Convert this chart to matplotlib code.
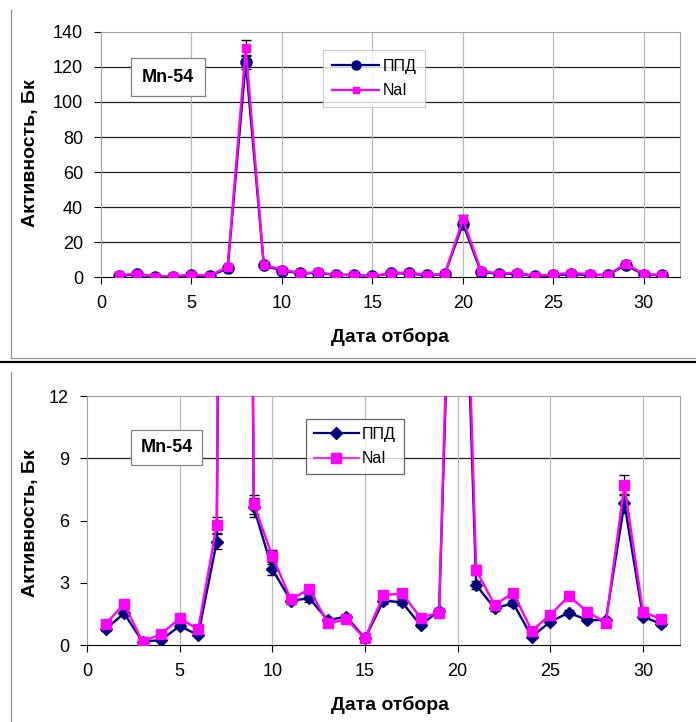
import matplotlib
matplotlib.use("Agg")
import matplotlib.pyplot as plt
from matplotlib.lines import Line2D

plt.rcParams['font.family'] = ['Liberation Sans', 'DejaVu Sans']

days = list(range(1, 32))
ppd = [0.76, 1.53, 0.16, 0.24, 0.92, 0.48, 4.98, 123.0, 6.63, 3.65, 2.14, 2.25, 1.2, 1.37, 0.32,
       2.14, 2.06, 0.96, 1.65, 30.5, 2.89, 1.77, 2.01, 0.4, 1.12, 1.56, 1.2, 1.2, 6.83, 1.37, 1.01]
nai = [1.01, 1.98, 0.16, 0.53, 1.28, 0.76, 5.78, 131.0, 6.78, 4.29, 2.2, 2.7, 1.04, 1.24, 0.32,
       2.4, 2.49, 1.32, 1.56, 33.0, 3.61, 1.93, 2.52, 0.69, 1.45, 2.36, 1.61, 1.08, 7.71, 1.61, 1.24]
err_ppd = [0.06, 0.12, 0.02, 0.03, 0.07, 0.04, 0.35, 4.0, 0.45, 0.26, 0.15, 0.16, 0.09, 0.1, 0.03,
           0.15, 0.15, 0.07, 0.12, 2.1, 0.2, 0.12, 0.15, 0.03, 0.08, 0.11, 0.09, 0.09, 0.45, 0.1, 0.07]
err_nai = [0.07, 0.14, 0.02, 0.04, 0.08, 0.05, 0.4, 4.5, 0.45, 0.3, 0.15, 0.19, 0.07, 0.09, 0.03,
           0.17, 0.17, 0.09, 0.11, 2.3, 0.25, 0.14, 0.18, 0.05, 0.1, 0.17, 0.11, 0.08, 0.5, 0.11, 0.08]

top_yticks = [0, 20, 40, 60, 80, 100, 120, 140]
bot_yticks = [0, 3, 6, 9, 12]
xticks = [0, 5, 10, 15, 20, 25, 30]

NAVY = '#000080'
MAG = '#FF00FF'

fig = plt.figure(figsize=(6.96, 7.22), dpi=100)

def style_axes(ax, ylim, yticks, hgrid):
    ax.set_xlim(0, 32)
    ax.set_ylim(*ylim)
    ax.set_xticks(xticks)
    ax.set_yticks(yticks)
    ax.tick_params(labelsize=13, length=5, width=0.8, direction='out', pad=8)
    for y in hgrid:
        ax.axhline(y, color='#202020', lw=0.9, zorder=0.5)
    for x in xticks[1:]:
        ax.axvline(x, color='#b8b8b8', lw=0.9, zorder=0.5)
    for s in ['top', 'right', 'left']:
        ax.spines[s].set_color('#a0a0a0')
    ax.spines['bottom'].set_color('black')

# top chart
ax1 = fig.add_axes([0.1451, 0.6163, 0.832, 0.3394])
style_axes(ax1, (0, 140), top_yticks, [20, 40, 60, 80, 100, 120])
ax1.errorbar(days, ppd, yerr=err_ppd, color=NAVY, lw=1.7, marker='o', ms=8,
             ecolor='black', elinewidth=0.9, capsize=3.5, zorder=3)
ax1.errorbar(days, nai, yerr=err_nai, color=MAG, lw=1.7, marker='s', ms=6.2,
             ecolor='black', elinewidth=0.9, capsize=3.5, zorder=4)
h1 = [Line2D([], [], color=NAVY, marker='o', ms=6.5, lw=1.6),
      Line2D([], [], color=MAG, marker='s', ms=5, lw=1.6)]
leg1 = ax1.legend(h1, ['ППД', 'NaI'], loc='upper left', bbox_to_anchor=(0.383, 0.927),
                  borderaxespad=0, fontsize=11.5, frameon=True, fancybox=False,
                  handlelength=3.0, handletextpad=0.2, borderpad=0.55, labelspacing=0.6)
leg1.get_frame().set_edgecolor('#c0c0c0')
leg1.get_frame().set_linewidth(0.8)
ax1.text(0.115, 0.816, 'Mn-54', transform=ax1.transAxes, ha='center', va='center',
         fontsize=13, fontweight='bold',
         bbox=dict(boxstyle='square,pad=0.6', fc='white', ec='#808080', lw=0.9))

# bottom chart (zoomed)
ax2 = fig.add_axes([0.125, 0.1066, 0.852, 0.3449])
style_axes(ax2, (0, 12), bot_yticks, [9])
ax2.errorbar(days, ppd, yerr=err_ppd, color=NAVY, lw=1.7, marker='D', ms=6,
             ecolor='black', elinewidth=0.9, capsize=3.5, zorder=3)
ax2.errorbar(days, nai, yerr=err_nai, color=MAG, lw=1.7, marker='s', ms=6.5,
             ecolor='black', elinewidth=0.9, capsize=3.5, zorder=4)
h2 = [Line2D([], [], color=NAVY, marker='D', ms=6, lw=1.6),
      Line2D([], [], color=MAG, marker='s', ms=6.5, lw=1.2)]
leg2 = ax2.legend(h2, ['ППД', 'NaI'], loc='upper left', bbox_to_anchor=(0.369, 0.908),
                  borderaxespad=0, fontsize=11.5, frameon=True, fancybox=False,
                  handlelength=2.8, handletextpad=0.2, borderpad=0.5, labelspacing=0.6)
leg2.get_frame().set_edgecolor('#404040')
leg2.get_frame().set_linewidth(0.9)
ax2.text(0.134, 0.795, 'Mn-54', transform=ax2.transAxes, ha='center', va='center',
         fontsize=13, fontweight='bold',
         bbox=dict(boxstyle='square,pad=0.5', fc='white', ec='#808080', lw=0.9))

# axis titles
fig.text(30 / 696, 1 - 153 / 722, 'Активность, Бк', rotation=90, ha='center', va='center',
         fontsize=14, fontweight='bold')
fig.text(390 / 696, 1 - 337 / 722, 'Дата отбора', ha='center', va='center',
         fontsize=14, fontweight='bold')
fig.text(30 / 696, 1 - 523 / 722, 'Активность, Бк', rotation=90, ha='center', va='center',
         fontsize=14, fontweight='bold')
fig.text(390 / 696, 1 - 705 / 722, 'Дата отбора', ha='center', va='center',
         fontsize=14, fontweight='bold')

# chart frames
W, H = 696, 722
fig.add_artist(Line2D([11 / W, 11 / W], [1 - 10 / H, 1 - 358 / H], color='#909090', lw=0.9))
fig.add_artist(Line2D([11 / W, 1], [1 - 358 / H, 1 - 358 / H], color='#909090', lw=0.9))
fig.add_artist(Line2D([0, 1], [1 - 362 / H, 1 - 362 / H], color='black', lw=1.6))
fig.add_artist(Line2D([11 / W, 11 / W], [1 - 372 / H, 0], color='#909090', lw=0.9))

fig.savefig('out.png', dpi=100)
